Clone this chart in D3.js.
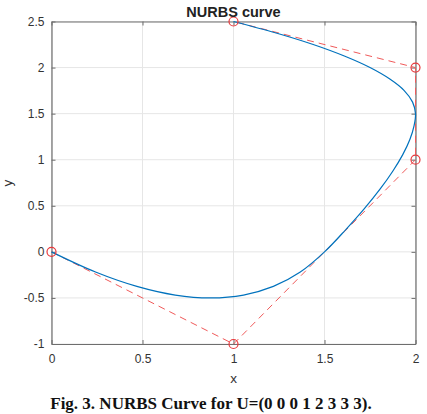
<!DOCTYPE html>
<html>
<head>
<meta charset="utf-8">
<script src="https://cdn.jsdelivr.net/npm/d3@7"></script>
<style>
  body { margin:0; background:#fff; }
  svg { display:block; }
</style>
</head>
<body>
<svg id="viz" width="427" height="414"></svg>
<script>
// control polygon
const ctrlX = [0, 1, 2, 2, 1]
const ctrlY = [0, -1, 1, 2, 2.5]

// points
const curveX = [0, 0.242, 0.469, 0.680, 0.875, 1.055, 1.219, 1.367, 1.5,
                1.617, 1.719, 1.805, 1.875, 1.930, 1.969, 1.992, 2,
                1.984, 1.938, 1.859, 1.75, 1.609, 1.438, 1.234, 1]
const curveY = [0, -0.219, -0.375, -0.469, -0.5, -0.469, -0.375, -0.219, 0,
                0.242, 0.469, 0.680, 0.875, 1.055, 1.219, 1.367, 1.5,
                1.625, 1.75, 1.875, 2, 2.125, 2.25, 2.375, 2.5]

const xTicks = [0, 0.5, 1, 1.5, 2]
const yTicks = [-1, -0.5, 0, 0.5, 1, 1.5, 2, 2.5]

const svg = d3.select("svg#viz")
const MARGIN = { top:21.5, bottom:70, left:51.5, right:11.5 }
const width = +svg.attr('width')
const height = +svg.attr('height')

const x = d3.scaleLinear().domain([0, 2]).range([MARGIN.left, width - MARGIN.right])
const y = d3.scaleLinear().domain([-1, 2.5]).range([344, MARGIN.top])

const font = 'Arial, "Liberation Sans", sans-serif'

// grid
svg.append('g').selectAll('line.gx')
    .data(xTicks)
    .join('line')
    .attr('x1', d => x(d)).attr('x2', d => x(d))
    .attr('y1', y(-1)).attr('y2', y(2.5))
    .attr('stroke', '#e6e6e6')
svg.append('g').selectAll('line.gy')
    .data(yTicks)
    .join('line')
    .attr('x1', x(0)).attr('x2', x(2))
    .attr('y1', d => y(d)).attr('y2', d => y(d))
    .attr('stroke', '#e6e6e6')

// axes (ticks inward)
const fmt = d => String(d)
const xAxis = svg.append('g').attr('transform', `translate(0,${y(-1)})`)
    .call(d3.axisBottom(x).tickValues(xTicks).tickFormat(fmt).tickSizeInner(-4).tickSizeOuter(0).tickPadding(10))
const yAxis = svg.append('g').attr('transform', `translate(${x(0)},0)`)
    .call(d3.axisLeft(y).tickValues(yTicks).tickFormat(fmt).tickSizeInner(-4).tickSizeOuter(0).tickPadding(7))
const xTop = svg.append('g').attr('transform', `translate(0,${y(2.5)})`)
    .call(d3.axisTop(x).tickValues(xTicks).tickFormat('').tickSizeInner(-4).tickSizeOuter(0))
const yRight = svg.append('g').attr('transform', `translate(${x(2)},0)`)
    .call(d3.axisRight(y).tickValues(yTicks).tickFormat('').tickSizeInner(-4).tickSizeOuter(0))

;[xAxis, yAxis, xTop, yRight].forEach(a => {
    a.selectAll('path').attr('stroke', '#6e6e6e').attr('stroke-width', 1.2)
    a.selectAll('line').attr('stroke', '#6e6e6e')
    a.selectAll('text').attr('fill', '#333').style('font-family', font).style('font-size', '12px')
})

// control polygon, dashed
const ctrl = ctrlX.map((d, i) => [d, ctrlY[i]])
svg.append('path')
    .datum(ctrl)
    .attr('d', d3.line().x(d => x(d[0])).y(d => y(d[1])))
    .attr('fill', 'none')
    .attr('stroke', '#f05a5a')
    .attr('stroke-width', 1)
    .attr('stroke-dasharray', '7,5')

// the curve
const pts = curveX.map((d, i) => [d, curveY[i]])
svg.append('path')
    .datum(pts)
    .attr('d', d3.line().x(d => x(d[0])).y(d => y(d[1])).curve(d3.curveCatmullRom))
    .attr('fill', 'none')
    .attr('stroke', '#0072BD')
    .attr('stroke-width', 1.2)

svg.selectAll('circle')
    .data(ctrl)
    .join('circle')
    .attr('cx', d => x(d[0]))
    .attr('cy', d => y(d[1]))
    .attr('r', 4.5)
    .attr('fill', 'none')
    .attr('stroke', '#e8393c')
    .attr('stroke-width', 1.2)

// labels
svg.append('text')
    .attr('x', x(1)).attr('y', 17)
    .attr('text-anchor', 'middle')
    .style('font-family', font).style('font-size', '14.5px').style('font-weight', 'bold')
    .attr('fill', '#222')
    .text('NURBS curve')

svg.append('text')
    .attr('x', x(1)).attr('y', 383)
    .attr('text-anchor', 'middle')
    .style('font-family', font).style('font-size', '13.5px')
    .attr('fill', '#333')
    .text('x')

svg.append('text')
    .attr('transform', 'translate(12,183) rotate(-90)')
    .attr('text-anchor', 'middle')
    .style('font-family', font).style('font-size', '13.5px')
    .attr('fill', '#333')
    .text('y')

svg.append('text')
    .attr('x', 211).attr('y', 409)
    .attr('text-anchor', 'middle')
    .style('font-family', '"Liberation Serif", "Times New Roman", serif')
    .style('font-size', '17px').style('font-weight', 'bold')
    .attr('fill', '#111')
    .text('Fig. 3. NURBS Curve for U=(0 0 0 1 2 3 3 3).')
</script>
</body>
</html>
